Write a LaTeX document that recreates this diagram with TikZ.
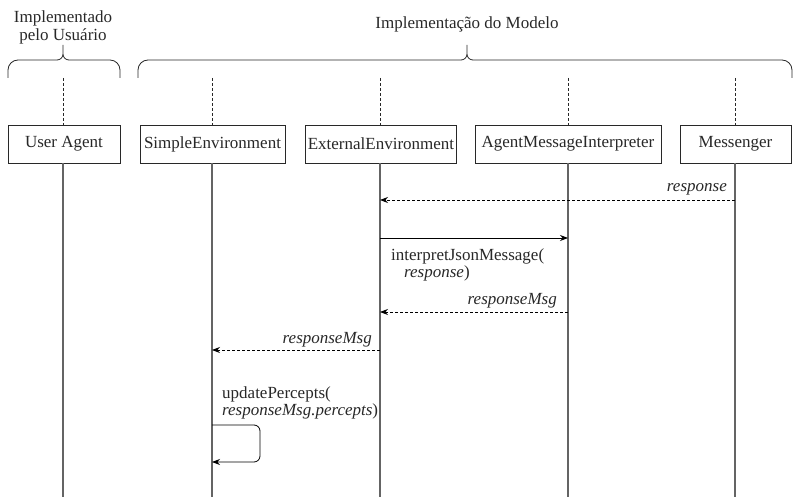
\documentclass[tikz,border=0pt]{standalone}
\usepackage{fontspec}
\setmainfont{Liberation Serif}
\usepackage{tikz}
\usetikzlibrary{arrows.meta,positioning,calc}
\usepackage{xcolor}
\definecolor{lifegray}{RGB}{100,100,100}
\definecolor{inkgray}{RGB}{40,40,40}
\tikzset{
  lifebox/.style={rectangle, draw=inkgray, line width=0.8pt, fill=white,
                  minimum height=38pt, inner sep=2pt, align=center, text=inkgray,
                  font=\fontsize{17}{18}\selectfont},
  lifeline/.style={draw=lifegray, line width=1.2pt},
  lifetop/.style={draw=inkgray, line width=0.7pt, dash pattern=on 3pt off 2pt},
  call/.style={-{Stealth[length=8pt,width=6pt]}, line width=0.8pt, black},
  reply/.style={call, dash pattern=on 3pt off 2pt},
  msglabel/.style={font=\fontsize{17}{17}\selectfont, text=inkgray, inner sep=0pt, align=left},
  grouplabel/.style={font=\fontsize{17}{18}\selectfont, text=inkgray, align=center},
}
% curly brace over a group of lifelines: left x, middle x, right x
\newcommand{\grpbrace}[3]{%
  \draw[inkgray, line width=0.8pt]
    (#1,78) -- (#1,70) to[out=90,in=180] (#1+10,60) -- (#2-6,60)
    to[out=0,in=-90] (#2,54) -- (#2,45) -- (#2,54)
    to[out=-90,in=180] (#2+6,60) -- (#3-10,60) to[out=0,in=90] (#3,70) -- (#3,78);
}

\begin{document}
\begin{tikzpicture}[x=1pt,y=-1pt]
\useasboundingbox (0,0) rectangle (793,497);

% groups
\grpbrace{8}{63}{120}
\grpbrace{138}{467}{792}
\node[grouplabel] (grpuser) at (63,27) {Implementado\\pelo Usuário};
\node[grouplabel] (grpmodel) at (467,24) {Implementação do Modelo};

% participants
\node[lifebox, minimum width=112pt] (ua) at (64,144) {User Agent};
\node[lifebox, minimum width=145pt] (se) at (212.5,144) {SimpleEnvironment};
\node[lifebox, minimum width=148pt] (ee) at (381,144) {ExternalEnvironment};
\node[lifebox, minimum width=186pt] (ami) at (568,144) {AgentMessageInterpreter};
\node[lifebox, minimum width=111pt] (msg) at (735.5,144) {Messenger};

% lifelines
\foreach \p/\x in {ua/63,se/212,ee/380,ami/568,msg/735}{
  \coordinate (\p-top) at (\x,78);
  \coordinate (\p-end) at (\x,497);
  \draw[lifetop] (\p-top) -- (\x,125);
  \draw[lifeline] (\x,163) -- (\p-end);
}

% messages
\coordinate (m1a) at (735,200);
\coordinate (m1b) at (380,200);
\draw[reply] (m1a) -- (m1b);
\node[msglabel, anchor=base east] (m1lbl) at (727,192) {\textit{response}};

\coordinate (m2a) at (380,238);
\coordinate (m2b) at (568,238);
\draw[call] (m2a) -- (m2b);
\node[msglabel, anchor=north west] (m2lbl) at (391,249)
  {interpretJsonMessage(\\\hspace*{13pt}\textit{response})};

\coordinate (m3a) at (568,312);
\coordinate (m3b) at (380,312);
\draw[reply] (m3a) -- (m3b);
\node[msglabel, anchor=base east] (m3lbl) at (557,305) {\textit{responseMsg}};

\coordinate (m4a) at (380,350);
\coordinate (m4b) at (212,350);
\draw[reply] (m4a) -- (m4b);
\node[msglabel, anchor=base east] (m4lbl) at (372,343) {\textit{responseMsg}};

% self call
\coordinate (m5a) at (212,425);
\coordinate (m5b) at (212,462);
\node[msglabel, anchor=north west] (m5lbl) at (222,387)
  {updatePercepts(\\\textit{responseMsg.percepts})};
\draw[call, rounded corners=6pt] (m5a) -- (260,425) -- (260,462) -- (m5b);
\end{tikzpicture}
\end{document}
